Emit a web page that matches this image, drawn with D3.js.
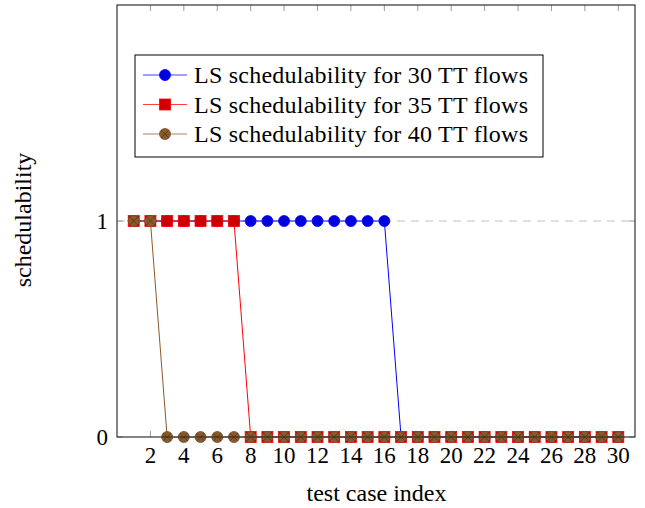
<!DOCTYPE html>
<html>
<head>
<meta charset="utf-8">
<script src="https://cdn.jsdelivr.net/npm/d3@7"></script>
<style>
  body { margin: 0; background: #fff; }
  text { font-family: "Liberation Serif", "DejaVu Serif", serif; }
</style>
</head>
<body>
<svg id="chart"></svg>
<script>
var testCases = d3.range(1, 31);
var sched30 = [1,1,1,1,1,1,1,1,1,1,1,1,1,1,1,1,0,0,0,0,0,0,0,0,0,0,0,0,0,0];
var sched35 = [1,1,1,1,1,1,1,0,0,0,0,0,0,0,0,0,0,0,0,0,0,0,0,0,0,0,0,0,0,0];
var sched40 = [1,1,0,0,0,0,0,0,0,0,0,0,0,0,0,0,0,0,0,0,0,0,0,0,0,0,0,0,0,0];
var xTicks = d3.range(2, 31, 2);
var yTicks = [0, 1];
var labels = ["LS schedulability for 30 TT flows", "LS schedulability for 35 TT flows", "LS schedulability for 40 TT flows"];

var width = 645, height = 508;
var mLeft = 117, mRight = 635, mTop = 5, mBottom = 437;

var svg = d3.select("#chart").attr("width", width).attr("height", height);

var x = d3.scaleLinear().domain([0, 31]).range([mLeft, mRight]);
var y = d3.scaleLinear().domain([0, 2]).range([mBottom, mTop]);

// grid line at y = 1
svg.append("line")
  .attr("x1", mLeft).attr("x2", mRight)
  .attr("y1", y(1)).attr("y2", y(1))
  .attr("stroke", "#c0c0c0").attr("stroke-width", 1)
  .attr("stroke-dasharray", "8,6");

// ticks bottom and top (inside)
var tickG = svg.append("g");
xTicks.forEach(function(t) {
  tickG.append("line").attr("x1", x(t)).attr("x2", x(t)).attr("y1", mBottom).attr("y2", mBottom - 6)
    .attr("stroke", "#999");
  tickG.append("line").attr("x1", x(t)).attr("x2", x(t)).attr("y1", mTop).attr("y2", mTop + 6)
    .attr("stroke", "#999");
});
yTicks.forEach(function(t) {
  tickG.append("line").attr("x1", mLeft).attr("x2", mLeft + 6).attr("y1", y(t)).attr("y2", y(t))
    .attr("stroke", "#999");
  tickG.append("line").attr("x1", mRight).attr("x2", mRight - 6).attr("y1", y(t)).attr("y2", y(t))
    .attr("stroke", "#999");
});

// tick labels
svg.append("g").selectAll("text").data(xTicks).enter().append("text")
  .attr("x", function(d) { return x(d); })
  .attr("y", mBottom + 26)
  .attr("text-anchor", "middle")
  .style("font-size", "23px")
  .text(function(d) { return d; });

svg.append("g").selectAll("text").data(yTicks).enter().append("text")
  .attr("x", mLeft - 9)
  .attr("y", function(d) { return y(d) + 8; })
  .attr("text-anchor", "end")
  .style("font-size", "23px")
  .text(function(d) { return d; });

// axis labels
svg.append("text")
  .attr("x", (mLeft + mRight) / 2 + 0.5).attr("y", 501)
  .attr("text-anchor", "middle")
  .style("font-size", "24px")
  .text("test case index");

svg.append("text")
  .attr("transform", "translate(31," + 220 + ") rotate(-90)")
  .attr("text-anchor", "middle")
  .style("font-size", "24px")
  .text("schedulability");

// series
var line = d3.line()
  .x(function(d) { return x(d[0]); })
  .y(function(d) { return y(d[1]); });

function pts(vals) { return testCases.map(function(c, i) { return [c, vals[i]]; }); }

function drawCircle(g, cx, cy) {
  g.append("circle").attr("cx", cx).attr("cy", cy).attr("r", 5.5)
    .attr("fill", "#0000dd").attr("stroke", "#0000ff").attr("stroke-width", 0.8);
}
function drawSquare(g, cx, cy) {
  g.append("rect").attr("x", cx - 5.5).attr("y", cy - 5.5).attr("width", 11).attr("height", 11)
    .attr("fill", "#cc0000").attr("stroke", "#ff0000").attr("stroke-width", 0.8);
}
function drawOtimes(g, cx, cy) {
  g.append("circle").attr("cx", cx).attr("cy", cy).attr("r", 5.5)
    .attr("fill", "#8b5a2b").attr("stroke", "#7a4e25").attr("stroke-width", 0.8);
  var d = 3.9;
  g.append("path")
    .attr("d", "M" + (cx - d) + "," + (cy - d) + "L" + (cx + d) + "," + (cy + d) +
               "M" + (cx - d) + "," + (cy + d) + "L" + (cx + d) + "," + (cy - d))
    .attr("stroke", "#4a3018").attr("stroke-width", 0.7);
}

var series = [
  { vals: sched30, color: "#0000ff", draw: drawCircle },
  { vals: sched35, color: "#ff0000", draw: drawSquare },
  { vals: sched40, color: "#8b5a2b", draw: drawOtimes }
];

series.forEach(function(s) {
  var g = svg.append("g");
  var data = pts(s.vals);
  g.append("path").datum(data).attr("d", line)
    .attr("fill", "none").attr("stroke", s.color).attr("stroke-width", 1);
  data.forEach(function(p) { s.draw(g, x(p[0]), y(p[1])); });
});

// frame
svg.append("rect")
  .attr("x", mLeft).attr("y", mTop).attr("width", mRight - mLeft).attr("height", mBottom - mTop)
  .attr("fill", "none").attr("stroke", "#333").attr("stroke-width", 1.2);

// legend
var lg = svg.append("g");
lg.append("rect").attr("x", 135).attr("y", 55).attr("width", 408).attr("height", 102)
  .attr("fill", "#fff").attr("stroke", "#000").attr("stroke-width", 1);
labels.forEach(function(lab, i) {
  var cy = 75 + i * 29.5;
  lg.append("line").attr("x1", 143).attr("x2", 187).attr("y1", cy).attr("y2", cy)
    .attr("stroke", series[i].color).attr("stroke-width", 1).attr("stroke-opacity", 0.75);
  series[i].draw(lg, 165, cy);
  lg.append("text").attr("x", 194).attr("y", cy + 8)
    .style("font-size", "24px")
    .attr("textLength", 334).attr("lengthAdjust", "spacing")
    .text(lab);
});
</script>
</body>
</html>
